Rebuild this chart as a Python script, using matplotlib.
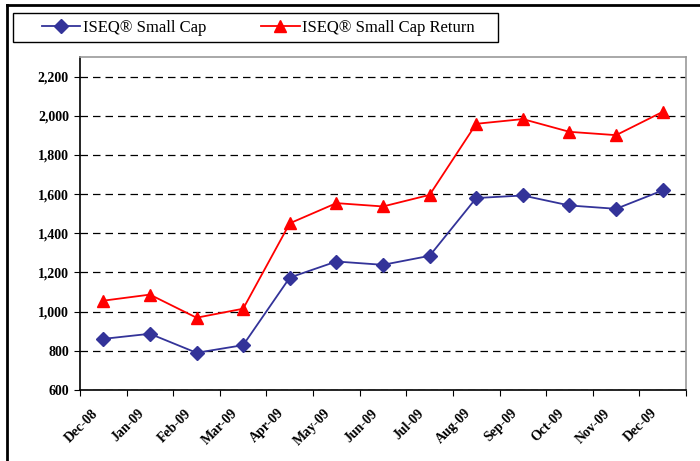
import matplotlib.pyplot as plt
from matplotlib.lines import Line2D
from matplotlib.patches import Rectangle
import numpy as np

months = ['Dec-08', 'Jan-09', 'Feb-09', 'Mar-09', 'Apr-09', 'May-09', 'Jun-09',
          'Jul-09', 'Aug-09', 'Sep-09', 'Oct-09', 'Nov-09', 'Dec-09']
small_cap = [861, 887, 790, 829, 1174, 1256, 1239, 1285, 1580, 1593, 1542, 1525, 1619]
small_cap_return = [1056, 1087, 969, 1015, 1451, 1554, 1537, 1596, 1959, 1983, 1918, 1901, 2020]
y_ticks = [600, 800, 1000, 1200, 1400, 1600, 1800, 2000, 2200]

plt.rcParams['font.family'] = ['Liberation Serif', 'DejaVu Serif']

fig = plt.figure(figsize=(7, 4.61), dpi=100)
ax = fig.add_axes([80/700, 1 - 390/461, 606/700, 333/461])

x = np.arange(len(months))
ax.plot(x, small_cap, color='#333399', lw=1.3, marker='D', markersize=7,
        label='ISEQ® Small Cap')
ax.plot(x, small_cap_return, color='#ff0000', lw=1.3, marker='^', markersize=9,
        label='ISEQ® Small Cap Return')

ax.set_xlim(-0.5, len(months) - 0.5)
ax.set_ylim(600, 2300)
ax.set_yticks(y_ticks)
ax.set_yticklabels(['{:,}'.format(v) for v in y_ticks], fontsize=10, fontweight='bold')
ax.yaxis.grid(True, color='black', linestyle=(0, (6, 4)), lw=0.9)
ax.set_axisbelow(True)

# major ticks on category boundaries, labels (minor, no tick mark) slightly left of centre
ax.set_xticks(np.arange(len(months) + 1) - 0.5)
ax.set_xticklabels([])
ax.set_xticks(x - 0.26, minor=True)
ax.set_xticklabels(months, minor=True, rotation=45, ha='right', va='top',
                   rotation_mode='anchor', fontsize=10, fontweight='bold')
ax.tick_params(axis='x', which='minor', length=0, pad=12)
ax.tick_params(axis='x', which='major', length=4, direction='out', color='black')
ax.tick_params(axis='y', length=4, direction='out', color='black', pad=4)

for side in ['left', 'bottom']:
    ax.spines[side].set_color('black')
    ax.spines[side].set_linewidth(1.2)
for side in ['top', 'right']:
    ax.spines[side].set_color('#999999')
    ax.spines[side].set_linewidth(1.2)

# legend box drawn separately, legend entries placed inside it
fig.add_artist(Rectangle((13/700, 1 - 42/461), 485/700, 29/461, transform=fig.transFigure,
                         fill=False, edgecolor='black', lw=1.0))
leg = fig.legend(loc='center left', bbox_to_anchor=(42/700, 1 - 27.5/461), ncol=2,
                 fontsize=12, frameon=False, borderpad=0, handlelength=2.3,
                 handletextpad=0.15, columnspacing=3.3, borderaxespad=0)

# outer frame of the chart
fig.add_artist(Line2D([7/700, 7/700], [0, 1 - 5/461], color='black', lw=2))
fig.add_artist(Line2D([7/700, 1], [1 - 5/461, 1 - 5/461], color='black', lw=2))

fig.savefig('out.png', dpi=100)
